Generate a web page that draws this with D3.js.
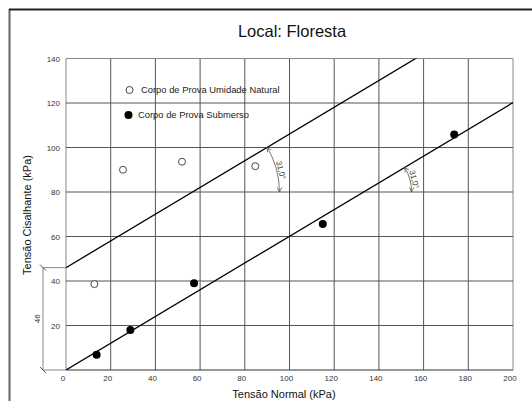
<!DOCTYPE html>
<html><head><meta charset="utf-8">
<script src="https://cdn.jsdelivr.net/npm/d3@7"></script>
<style>body{margin:0;background:#fff}svg{display:block;font-family:"Liberation Sans",Arial,sans-serif}</style>
</head><body><svg id="c" width="532" height="401"></svg>
<script>
const title = "Local: Floresta";
const xLabel = "Tensão Normal (kPa)";
const yLabel = "Tensão Cisalhante (kPa)";
const xTicks = [0,20,40,60,80,100,120,140,160,180,200];
const yTicks = [20,40,60,80,100,120,140];
const seriesNames = ["Corpo de Prova Umidade Natural","Corpo de Prova Submerso"];
const naturalX = [12.7,25.5,51.9,84.7];
const naturalY = [38.6,90,93.6,91.6];
const submersoX = [13.7,28.8,57.3,114.9,173.7];
const submersoY = [6.8,18,39,65.6,105.8];
const frictionAngles = [31.0,31.0];
const intercepts = [46,0];
const angleLabels = ["31,0°","31,0°"];
const cohesionLabel = "46";

const svg = d3.select("#c");
const x = d3.scaleLinear().domain([0,200]).range([66,513]);
const y = d3.scaleLinear().domain([0,140]).range([370,58.5]);

// outer frame
svg.append("line").attr("x1",9.5).attr("x2",9.5).attr("y1",9).attr("y2",401).attr("stroke","#666").attr("stroke-width",2);
svg.append("line").attr("x1",9).attr("x2",532).attr("y1",9.5).attr("y2",9.5).attr("stroke","#222").attr("stroke-width",2);

svg.append("text").attr("x",292).attr("y",37).attr("text-anchor","middle").attr("font-size",16.5).attr("fill","#111").text(title);

// grid
const g = svg.append("g");
xTicks.forEach(t=>{
  g.append("line").attr("x1",x(t)).attr("x2",x(t)).attr("y1",y(0)).attr("y2",y(140)).attr("stroke",t===0||t===200?"#888":"#555").attr("stroke-width",1);
});
yTicks.forEach(t=>{
  g.append("line").attr("x1",x(0)).attr("x2",x(200)).attr("y1",y(t)).attr("y2",y(t)).attr("stroke",t===140?"#888":"#555").attr("stroke-width",1);
});
g.append("line").attr("x1",x(0)).attr("x2",x(200)).attr("y1",y(0)).attr("y2",y(0)).attr("stroke","#333").attr("stroke-width",1.2);

// tick labels
xTicks.forEach(t=>{
  svg.append("text").attr("x",x(t)-3).attr("y",381).attr("text-anchor","middle").attr("font-size",8).attr("fill","#333").text(t);
});
yTicks.forEach(t=>{
  svg.append("text").attr("x",60).attr("y",y(t)+3).attr("text-anchor","end").attr("font-size",8).attr("fill","#333").text(t);
});

svg.append("text").attr("x",284).attr("y",398).attr("text-anchor","middle").attr("font-size",11).attr("fill","#111").text(xLabel);
svg.append("text").attr("transform","translate(31,215) rotate(-90)").attr("text-anchor","middle").attr("font-size",11).attr("fill","#111").text(yLabel);

// failure envelopes
svg.append("clipPath").attr("id","clip").append("rect").attr("x",x(0)).attr("y",y(140)).attr("width",x(200)-x(0)).attr("height",y(0)-y(140));
const lineG = svg.append("g").attr("clip-path","url(#clip)");
intercepts.forEach((c,i)=>{
  const s = Math.tan(frictionAngles[i]*Math.PI/180);
  lineG.append("line").attr("x1",x(0)).attr("y1",y(c)).attr("x2",x(200)).attr("y2",y(c+s*200)).attr("stroke","#000").attr("stroke-width",1.3);
});

// angle dimension arcs
const arcDefs = [{yv:80,r:87},{yv:80,r:48}];
arcDefs.forEach((d,i)=>{
  const s = Math.tan(frictionAngles[i]*Math.PI/180);
  const xv = (d.yv-intercepts[i])/s;
  const vx = x(xv), vy = y(d.yv);
  const pa = Math.atan((y(0)-y(s*100))/(x(100)-x(0)));
  const p = d3.path();
  p.arc(vx,vy,d.r,0,-pa,true);
  svg.append("path").attr("d",p.toString()).attr("fill","none").attr("stroke","#555").attr("stroke-width",0.8);
  const ends = [{a:0,dir:1},{a:-pa,dir:-1}];
  ends.forEach(e=>{
    const ex = vx + d.r*Math.cos(e.a), ey = vy + d.r*Math.sin(e.a);
    const tx = -Math.sin(e.a)*e.dir, ty = Math.cos(e.a)*e.dir;
    [0.45,-0.45].forEach(w=>{
      const bx = -tx*Math.cos(w) + ty*Math.sin(w);
      const by = -ty*Math.cos(w) - tx*Math.sin(w);
      svg.append("line").attr("x1",ex).attr("y1",ey).attr("x2",ex+bx*5).attr("y2",ey+by*5).attr("stroke","#555").attr("stroke-width",0.8);
    });
  });
  const ma = -pa*0.45;
  const lx = vx + (d.r+1.5)*Math.cos(ma), ly = vy + (d.r+1.5)*Math.sin(ma);
  const rot = (Math.PI/2 + ma)*180/Math.PI;
  svg.append("text").attr("transform",`translate(${lx},${ly}) rotate(${rot})`).attr("text-anchor","middle").attr("font-size",8).attr("fill","#333").text(angleLabels[i]);
});

// cohesion dimension
const dimX = 43;
svg.append("line").attr("x1",dimX).attr("x2",dimX).attr("y1",y(intercepts[0])).attr("y2",y(0)).attr("stroke","#888").attr("stroke-width",1);
[intercepts[0],0].forEach(v=>{
  svg.append("line").attr("x1",dimX).attr("x2",x(0)).attr("y1",y(v)).attr("y2",y(v)).attr("stroke","#888").attr("stroke-width",1);
  svg.append("line").attr("x1",dimX-3).attr("x2",dimX+3).attr("y1",y(v)-3).attr("y2",y(v)+3).attr("stroke","#555").attr("stroke-width",1);
});
svg.append("text").attr("transform",`translate(40,${(y(intercepts[0])+y(0))/2}) rotate(-90)`).attr("text-anchor","middle").attr("font-size",8).attr("fill","#333").text(cohesionLabel);

// points
naturalX.forEach((v,i)=>{
  svg.append("circle").attr("cx",x(v)).attr("cy",y(naturalY[i])).attr("r",3.5).attr("fill","#fff").attr("stroke","#333").attr("stroke-width",0.9);
});
submersoX.forEach((v,i)=>{
  svg.append("circle").attr("cx",x(v)).attr("cy",y(submersoY[i])).attr("r",4).attr("fill","#000");
});

// legend
svg.append("circle").attr("cx",129.5).attr("cy",90).attr("r",3.5).attr("fill","#fff").attr("stroke","#333").attr("stroke-width",0.9);
svg.append("text").attr("x",141).attr("y",93).attr("font-size",9.4).attr("fill","#222").text(seriesNames[0]);
svg.append("circle").attr("cx",128.5).attr("cy",115).attr("r",4).attr("fill","#000");
svg.append("text").attr("x",138).attr("y",118).attr("font-size",9.4).attr("fill","#222").text(seriesNames[1]);
</script></body></html>
